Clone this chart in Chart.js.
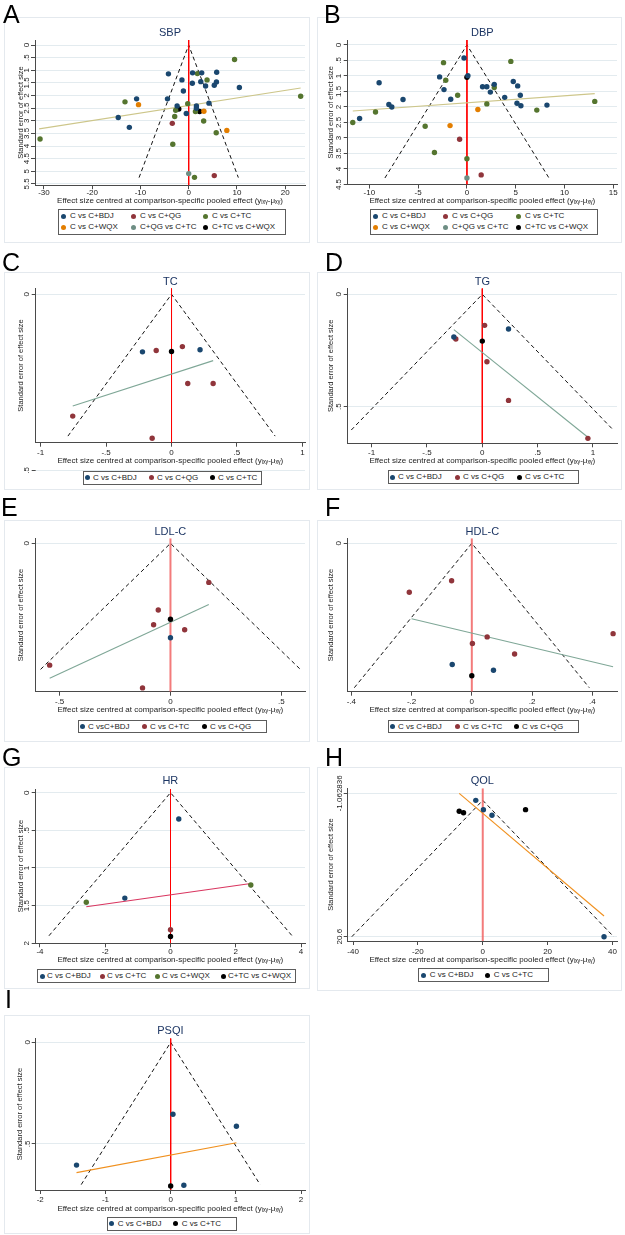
<!DOCTYPE html>
<html>
<head>
<meta charset="utf-8">
<title>Comparison-adjusted funnel plots</title>
<script src="https://cdn.jsdelivr.net/npm/chart.js@4.4.1/dist/chart.umd.min.js"></script>
<style>
  body { margin:0; width:625px; height:1235px; background:#fff; position:relative; overflow:hidden; font-family:"Liberation Sans", Arial, sans-serif; }
  .frame { position:absolute; border:1px solid #e4e9ee; box-sizing:border-box; }
  .letter { position:absolute; font-size:25px; line-height:25px; color:#000; }
  canvas { position:absolute; }
  .legend { position:absolute; border:1px solid #5c5c5c; background:#fff; box-sizing:border-box; }
  .legend i { position:absolute; width:5px; height:5px; border-radius:50%; }
  .legend span { position:absolute; font-size:8px; line-height:10px; white-space:nowrap; color:#222; }
</style>
</head>
<body>
<script>
// ---------- data: [effect centred, standard error] ----------

// A  SBP
var sbpLabels = ['C vs C+BDJ', 'C vs C+QG', 'C vs C+TC', 'C vs C+WQX', 'C+QG vs C+TC', 'C+TC vs C+WQX'];
var sbpBDJ = [[-4.2,1.14],[0.8,1.1],[2.7,1.1],[5.8,1.08],[-1.4,1.38],[2.5,1.45],[0.75,1.51],[5.75,1.46],[5.3,1.59],[3.5,1.62],[10.5,1.68],[-1.1,1.82],[-10.8,2.13],[-4.4,2.13],[4.2,2.3],[-2.4,2.41],[1.6,2.41],[1.6,2.5],[-14.6,2.87],[-0.5,2.71],[-12.3,3.26]];
var sbpQG = [[-3.4,3.1],[5.3,5.17]];
var sbpTC = [[9.5,0.57],[1.8,1.13],[3.8,1.38],[-13.2,2.25],[23.2,2.03],[-0.2,2.32],[-2.7,2.58],[-2.9,2.83],[1.4,2.63],[3.1,3.01],[5.7,3.47],[-3.3,3.93],[-30.8,3.72],[1.2,5.24]];
var sbpWQX = [[-10.4,2.36],[3.15,2.62],[7.9,3.38]];
var sbpQGTC = [[0,5.09]];
var sbpTCWQX = [[-2.05,2.53],[2.26,2.63]];
var sbpFit = [[-31,3.32],[23.2,1.7]];
var sbpSe = 5.25;
var sbpXTicks = [-30,-20,-10,0,10,20];
var sbpYTicks = [0,0.5,1,1.5,2,2.5,3,3.5,4,4.5,5,5.5];
var sbpXRange = [-31.85,24.1];
var sbpYRange = [-0.2,5.55];

// B  DBP
var dbpLabels = sbpLabels;
var dbpBDJ = [[-0.3,0.42],[0.1,0.99],[-9.0,1.22],[-2.8,1.03],[-2.35,1.44],[-1.66,1.75],[1.6,1.35],[2.04,1.35],[2.4,1.52],[2.8,1.27],[3.87,1.69],[4.75,1.18],[5.2,1.32],[5.47,1.62],[5.13,1.88],[5.53,1.96],[8.2,1.94],[-6.55,1.76],[-8.0,1.92],[-7.7,2.0],[-11.0,2.37]];
var dbpQG = [[-0.75,3.04],[1.46,4.19]];
var dbpTC = [[-2.4,0.57],[4.5,0.53],[-2.17,1.14],[2.8,1.37],[-0.95,1.62],[2.04,1.9],[-9.37,2.16],[-11.7,2.5],[-4.28,2.62],[7.16,2.1],[13.1,1.82],[-3.33,3.47],[0,3.67]];
var dbpWQX = [[1.12,2.08],[-1.73,2.6]];
var dbpQGTC = [[0,4.29]];
var dbpTCWQX = [[0,1.04]];
var dbpFit = [[-11.7,2.13],[13.1,1.57]];
var dbpSe = 4.29;
var dbpXTicks = [-10,-5,0,5,10,15];
var dbpYTicks = [0,0.5,1,1.5,2,2.5,3,3.5,4,4.5];
var dbpXRange = [-12.22,15.38];
var dbpYRange = [-0.16,4.5];

// C  TC
var tcLabels = ['C vs C+BDJ', 'C vs C+QG', 'C vs C+TC'];
var tcBDJ = [[-0.222,0.164],[0.218,0.158]];
var tcQG = [[-0.117,0.16],[0.083,0.149],[0.124,0.254],[0.318,0.254],[-0.755,0.347],[-0.148,0.41]];
var tcTC = [[0,0.163]];
var tcFit = [[-0.755,0.318],[0.318,0.189]];
var tcSe = 0.404;
var tcXTicks = [-1,-0.5,0,0.5,1];
var tcYTicks = [0,0.5];
var tcXRange = [-1.038,1.02];
var tcYRange = [-0.017,0.4228];

// D  TG
var tgLabels = ['C vs C+BDJ', 'C vs C+QG', 'C vs C+TC'];
var tgBDJ = [[0.237,0.154],[-0.257,0.19]];
var tgQG = [[0.021,0.138],[-0.239,0.199],[0.042,0.3],[0.237,0.472],[0.954,0.641]];
var tgTC = [[0,0.208]];
var tgFit = [[-0.257,0.157],[0.954,0.636]];
var tgSe = 0.604;
var tgXTicks = [-1,-0.5,0,0.5,1];
var tgYTicks = [0,0.5];
var tgXRange = [-1.216,1.217];
var tgYRange = [-0.027,0.663];

// E  LDL-C
var ldlLabels = ['C vsC+BDJ', 'C vs C+TC', 'C vs C+QG'];
var ldlBDJ = [[0,0.224]];
var ldlTC = [[0.173,0.0926],[-0.055,0.158],[-0.076,0.193],[0.064,0.205],[-0.545,0.289],[-0.126,0.343]];
var ldlQG = [[0,0.18]];
var ldlFit = [[-0.545,0.32],[0.173,0.145]];
var ldlSe = 0.299;
var ldlXTicks = [-0.5,0,0.5];
var ldlYTicks = [0];
var ldlXRange = [-0.608,0.607];
var ldlYRange = [-0.012,0.352];

// F  HDL-C
var hdlLabels = ['C vs C+BDJ', 'C vs C+TC', 'C vs C+QG'];
var hdlBDJ = [[-0.065,0.167],[0.072,0.175]];
var hdlTC = [[-0.067,0.0515],[-0.2075,0.0675],[0.469,0.1245],[0.051,0.129],[0.002,0.138],[0.142,0.1525]];
var hdlQG = [[0,0.1825]];
var hdlFit = [[-0.2,0.104],[0.469,0.17]];
var hdlSe = 0.199;
var hdlXTicks = [-0.4,-0.2,0,0.2,0.4];
var hdlYTicks = [0];
var hdlXRange = [-0.412,0.482];
var hdlYRange = [-0.0069,0.2045];

// G  HR
var hrLabels = ['C vs C+BDJ', 'C vs C+TC', 'C vs C+WQX', 'C+TC vs C+WQX'];
var hrBDJ = [[0.253,0.35],[-1.4,1.4]];
var hrTC = [[0,1.82]];
var hrWQX = [[-2.58,1.455],[2.46,1.225]];
var hrTCWQX = [[0,1.91]];
var hrFit = [[-2.58,1.515],[2.46,1.205]];
var hrSe = 1.9;
var hrXTicks = [-4,-2,0,2,4];
var hrYTicks = [0,0.5,1,1.5,2];
var hrXRange = [-4.13,4.12];
var hrYRange = [-0.049,2.0];

// H  QOL
var qolLabels = ['C vs C+BDJ', 'C vs C+TC'];
var qolBDJ = [[-2.15,0.0],[0.2,1.41],[2.85,2.26],[37.4,20.6]];
var qolTC = [[-7.26,1.66],[-5.93,1.87],[13.2,1.41]];
var qolFit = [[-7.26,-1.06],[37.4,17.47]];
var qolSe = 20.6;
var qolXTicks = [-40,-20,0,20,40];
var qolYTicks = [-1.062836,20.6];
var qolXRange = [-41.65,41.4];
var qolYRange = [-1.818,21.25];

// I  PSQI
var psqiLabels = ['C vs C+BDJ', 'C vs C+TC'];
var psqiBDJ = [[0.035,0.354],[1.008,0.413],[-1.444,0.604],[0.202,0.703]];
var psqiTC = [[0,0.707]];
var psqiFit = [[-1.444,0.641],[1.008,0.494]];
var psqiSe = 0.7;
var psqiXTicks = [-2,-1,0,1,2];
var psqiYTicks = [0,0.5];
var psqiXRange = [-2.07,2.06];
var psqiYRange = [-0.02,0.7265];

// ---------- styles ----------
var navy = '#1a476f', maroon = '#90353b', forest = '#55752f', dkorange = '#e37e00', teal = '#6e8e84', black = '#000000';
var khakiLine = '#cdc68a', tealLine = '#7fa797', pinkLine = '#d9355f', orangeLine = '#f0901e';
var redThin = '#ff0000', redSoft = 'rgba(240,90,90,0.8)';
var FONT = '"Liberation Sans", Arial, sans-serif';
var axisColor = '#4a4a4a', gridColor = '#e3ebef', textColor = '#222';
var XTITLE = 'Effect size centred at comparison-specific pooled effect (y\u1D62\u2093\u1D67-\u03BC\u2093\u1D67)';
var YTITLE = 'Standard error of effect size';

// ---------- layout in page pixels ----------
var geoA = {frame:[4,17,306,226], plot:[35,307,40,185.2], titleY:33, xTickY:193, xTitleY:201, yTickX:27, yTitleX:20.5, legend:[58,209,228,26], cols:[63,133,205], rows:[216,227], gap:7};
var geoB = {frame:[317,17,305,226], plot:[347.7,618,40,184.5], titleY:33, xTickY:193, xTitleY:201, yTickX:339, yTitleX:331, legend:[370,209,228,26], cols:[375,445,518], rows:[216,227], gap:7};
var geoC = {frame:[4,272,306,218], plot:[35.7,306,288.3,442.7], titleY:282, xTickY:452.7, xTitleY:461, yTickX:27, yTitleX:20.5, legend:[83,471,179,14], cols:[87,151,212], rows:[477.5], gap:6};
var geoD = {frame:[317,272,305,218], plot:[347.7,619,288.3,443.3], titleY:282, xTickY:453, xTitleY:461, yTickX:339, yTitleX:331, legend:[388,470,191,14], cols:[392,457,519], rows:[477], gap:6};
var geoE = {frame:[4,520,306,222], plot:[35.7,307,538.3,691.7], titleY:532.3, xTickY:701.7, xTitleY:710, yTickX:27, yTitleX:20.5, legend:[78,720,189,13], cols:[82,144,204], rows:[726.5], gap:6};
var geoF = {frame:[317,520,305,222], plot:[347.7,619,538.3,691.7], titleY:532, xTickY:701.7, xTitleY:710, yTickX:339, yTitleX:331, legend:[388,720,191,13], cols:[392,457,516], rows:[726.5], gap:6};
var geoG = {frame:[4,767,306,222], plot:[35.7,307,789,943.3], titleY:781, xTickY:951.7, xTitleY:960, yTickX:27, yTitleX:20.5, legend:[37,969,259,14], cols:[42,102,157,223], rows:[976], gap:5};
var geoH = {frame:[317,767,305,224], plot:[347.7,619,788.3,941], titleY:781, xTickY:951.7, xTitleY:960, yTickX:339.5, yTitleX:331, legend:[418,968,131,14], cols:[423.7,487.7], rows:[975], gap:6};
var geoI = {frame:[4,1015,306,219], plot:[35.7,307,1038.3,1190], titleY:1030.7, xTickY:1200, xTitleY:1208.3, yTickX:27.5, yTitleX:20, legend:[106.7,1216.7,130.6,14], cols:[111.7,175.7], rows:[1223.7], gap:6};

var panels = [
  {letter:'A', lpos:[3,1.7], title:'SBP', labels:sbpLabels, series:[sbpBDJ,sbpQG,sbpTC,sbpWQX,sbpQGTC,sbpTCWQX], colors:[navy,maroon,forest,dkorange,teal,black], fit:sbpFit, fitColor:khakiLine, se:sbpSe, xt:sbpXTicks, yt:sbpYTicks, xr:sbpXRange, yr:sbpYRange, zero:redThin, zeroW:1, geo:geoA},
  {letter:'B', lpos:[324,1.7], title:'DBP', labels:dbpLabels, series:[dbpBDJ,dbpQG,dbpTC,dbpWQX,dbpQGTC,dbpTCWQX], colors:[navy,maroon,forest,dkorange,teal,black], fit:dbpFit, fitColor:khakiLine, se:dbpSe, xt:dbpXTicks, yt:dbpYTicks, xr:dbpXRange, yr:dbpYRange, zero:redThin, zeroW:1, geo:geoB},
  {letter:'C', lpos:[2,249.7], title:'TC', labels:tcLabels, series:[tcBDJ,tcQG,tcTC], colors:[navy,maroon,black], fit:tcFit, fitColor:tealLine, se:tcSe, xt:tcXTicks, yt:tcYTicks, xr:tcXRange, yr:tcYRange, zero:redThin, zeroW:1, geo:geoC},
  {letter:'D', lpos:[325,249.7], title:'TG', labels:tgLabels, series:[tgBDJ,tgQG,tgTC], colors:[navy,maroon,black], fit:tgFit, fitColor:tealLine, se:tgSe, xt:tgXTicks, yt:tgYTicks, xr:tgXRange, yr:tgYRange, zero:redThin, zeroW:1, geo:geoD},
  {letter:'E', lpos:[1,494.7], title:'LDL-C', labels:ldlLabels, series:[ldlBDJ,ldlTC,ldlQG], colors:[navy,maroon,black], fit:ldlFit, fitColor:tealLine, se:ldlSe, xt:ldlXTicks, yt:ldlYTicks, xr:ldlXRange, yr:ldlYRange, zero:redSoft, zeroW:2, geo:geoE},
  {letter:'F', lpos:[325,494.7], title:'HDL-C', labels:hdlLabels, series:[hdlBDJ,hdlTC,hdlQG], colors:[navy,maroon,black], fit:hdlFit, fitColor:tealLine, se:hdlSe, xt:hdlXTicks, yt:hdlYTicks, xr:hdlXRange, yr:hdlYRange, zero:redSoft, zeroW:2, geo:geoF},
  {letter:'G', lpos:[2,744.7], title:'HR', labels:hrLabels, series:[hrBDJ,hrTC,hrWQX,hrTCWQX], colors:[navy,maroon,forest,black], fit:hrFit, fitColor:pinkLine, se:hrSe, xt:hrXTicks, yt:hrYTicks, xr:hrXRange, yr:hrYRange, zero:redThin, zeroW:1, geo:geoG},
  {letter:'H', lpos:[325,744.7], title:'QOL', labels:qolLabels, series:[qolBDJ,qolTC], colors:[navy,black], fit:qolFit, fitColor:orangeLine, se:qolSe, xt:qolXTicks, yt:qolYTicks, xr:qolXRange, yr:qolYRange, zero:redSoft, zeroW:2, geo:geoH},
  {letter:'I', lpos:[5,986.7], title:'PSQI', labels:psqiLabels, series:[psqiBDJ,psqiTC], colors:[navy,black], fit:psqiFit, fitColor:orangeLine, se:psqiSe, xt:psqiXTicks, yt:psqiYTicks, xr:psqiXRange, yr:psqiYRange, zero:redThin, zeroW:1, geo:geoI}
];

// Stata style numbers: .5 instead of 0.5
function stataNum(v) {
  var s = String(+Number(v).toFixed(6));
  return s.replace(/^(-?)0\./, '$1.');
}

var mctx = document.createElement('canvas').getContext('2d');
function widest(vals, size) {
  mctx.font = size + 'px ' + FONT;
  var w = 0;
  vals.forEach(function (v) { w = Math.max(w, mctx.measureText(stataNum(v)).width); });
  return w;
}

function pts(arr) {
  return arr.map(function (d) { return {x: d[0], y: d[1]}; });
}

// ticks that Stata draws outside the plot region (panel C)
var overflowTicks = {
  id: 'overflowTicks',
  afterDraw: function (chart, args, opts) {
    var ys = chart.scales.y, ca = chart.chartArea, ctx = chart.ctx;
    (opts.values || []).forEach(function (v) {
      if (v >= ys.min && v <= ys.max) return;
      var py = Math.round(ys.getPixelForValue(v)) + 0.5;
      ctx.save();
      ctx.lineWidth = 1;
      ctx.strokeStyle = gridColor;
      ctx.beginPath(); ctx.moveTo(ca.left, py); ctx.lineTo(ca.right, py); ctx.stroke();
      ctx.strokeStyle = axisColor;
      ctx.beginPath(); ctx.moveTo(ca.left - 4, py); ctx.lineTo(ca.left, py); ctx.stroke();
      ctx.translate(opts.labelX, py);
      ctx.rotate(-Math.PI / 2);
      ctx.fillStyle = textColor;
      ctx.font = '8px ' + FONT;
      ctx.textAlign = 'center';
      ctx.textBaseline = 'middle';
      ctx.fillText(stataNum(v), 0, 0);
      ctx.restore();
    });
  }
};

function addDiv(cls, x, y, w, h) {
  var d = document.createElement('div');
  d.className = cls;
  d.style.left = x + 'px'; d.style.top = y + 'px';
  if (w != null) { d.style.width = w + 'px'; d.style.height = h + 'px'; }
  document.body.appendChild(d);
  return d;
}

function build(p) {
  var g = p.geo, f = g.frame;
  addDiv('frame', f[0], f[1], f[2], f[3]);
  var L = f[0] + 1, T = f[1] + 1, W = f[2] - 2, H = f[3] - 2;
  var cv = document.createElement('canvas');
  cv.width = W; cv.height = H;
  cv.style.left = L + 'px'; cv.style.top = T + 'px';
  document.body.appendChild(cv);

  var pl = g.plot[0] - L, pr = g.plot[1] - L, pt = g.plot[2] - T, pb = g.plot[3] - T;
  var tl = 4;
  var titleLH = 11 * 1.2, yTitleLH = 7.5 * 1.2, xTitleLH = 8 * 1.2, tickLH = 8 * 1.2;
  var padLeft = (g.yTitleX - L) - yTitleLH / 2;
  var yW = pl - padLeft;
  var padRight = W - pr;
  var titleTop = (g.titleY - T) - titleLH / 2;
  var titleBot = pt - (g.titleY - T) - titleLH / 2;
  var xBottom = (g.xTitleY - T) + xTitleLH / 2;
  var xH = xBottom - pb;
  var padBottom = H - xBottom;
  var xTickPad = (g.xTickY - T) - pb - tl - tickLH / 2;
  var inY = p.yt.filter(function (v) { return v >= p.yr[0] && v <= p.yr[1]; });
  var yTickPad = pl - tl - widest(inY, 8) / 2 - (g.yTickX - L);

  var ds = [];
  p.series.forEach(function (s, i) {
    ds.push({label: p.labels[i], data: pts(s), backgroundColor: p.colors[i], borderColor: p.colors[i],
      pointRadius: 2.7, pointBorderWidth: 0, showLine: false, order: 0});
  });
  ds.push({label: 'fit', data: pts(p.fit), showLine: true, borderColor: p.fitColor, borderWidth: 1.1, pointRadius: 0, order: 1});
  ds.push({label: 'zero', data: [{x: 0, y: p.yr[0]}, {x: 0, y: p.yr[1]}], showLine: true, borderColor: p.zero, borderWidth: p.zeroW, pointRadius: 0, order: 2});
  ds.push({label: 'funnel', data: [{x: -1.96 * p.se, y: p.se}, {x: 0, y: 0}, {x: 1.96 * p.se, y: p.se}], showLine: true,
    borderColor: '#111', borderWidth: 1, borderDash: [4, 3], pointRadius: 0, order: 3});

  new Chart(cv, {
    type: 'scatter',
    data: {datasets: ds},
    plugins: [overflowTicks],
    options: {
      responsive: false, animation: false, devicePixelRatio: 1, events: [],
      layout: {padding: {left: padLeft, right: padRight, top: 0, bottom: padBottom}},
      plugins: {
        legend: {display: false}, tooltip: {enabled: false},
        title: {display: true, text: p.title, fullSize: false, color: '#1c3563',
          font: {size: 11, family: FONT, weight: 'normal'}, padding: {top: titleTop, bottom: titleBot}},
        overflowTicks: {values: p.yt, labelX: g.yTickX - L}
      },
      scales: {
        x: {
          type: 'linear', min: p.xr[0], max: p.xr[1],
          afterBuildTicks: function (s) { s.ticks = p.xt.map(function (v) { return {value: v}; }); },
          afterFit: function (s) { s.height = xH; },
          ticks: {callback: function (v) { return stataNum(v); }, font: {size: 8, family: FONT}, color: textColor,
            padding: xTickPad, maxRotation: 0, autoSkip: false},
          grid: {drawOnChartArea: false, tickLength: tl, tickColor: axisColor, color: axisColor},
          border: {display: true, color: axisColor, width: 1},
          title: {display: true, text: XTITLE, font: {size: 8, family: FONT}, color: textColor, padding: 0}
        },
        y: {
          type: 'linear', reverse: true, min: p.yr[0], max: p.yr[1],
          afterBuildTicks: function (s) { s.ticks = inY.map(function (v) { return {value: v}; }); },
          afterFit: function (s) { s.width = yW; },
          ticks: {callback: function (v) { return stataNum(v); }, font: {size: 8, family: FONT}, color: textColor,
            minRotation: 90, maxRotation: 90, crossAlign: 'center', padding: yTickPad, autoSkip: false},
          grid: {color: gridColor, tickColor: axisColor, tickLength: tl},
          border: {display: true, color: axisColor, width: 1},
          title: {display: true, text: YTITLE, font: {size: 7.5, family: FONT}, color: textColor, padding: 0}
        }
      }
    }
  });

  // legend box, Stata style
  var lb = g.legend;
  var leg = addDiv('legend', lb[0], lb[1], lb[2], lb[3]);
  p.labels.forEach(function (lab, i) {
    var col = i % g.cols.length, row = Math.floor(i / g.cols.length);
    var cx = g.cols[col] - lb[0] - 1, cy = g.rows[row] - lb[1] - 1;
    var dot = document.createElement('i');
    dot.style.background = p.colors[i];
    dot.style.left = (cx - 2.5) + 'px'; dot.style.top = (cy - 2.5) + 'px';
    leg.appendChild(dot);
    var t = document.createElement('span');
    t.textContent = lab;
    t.style.left = (cx + g.gap) + 'px'; t.style.top = (cy - 5) + 'px';
    leg.appendChild(t);
  });

  var letter = addDiv('letter', p.lpos[0], p.lpos[1]);
  letter.textContent = p.letter;
}

Chart.defaults.font.family = FONT;
Chart.defaults.color = textColor;
panels.forEach(build);
</script>
</body>
</html>
